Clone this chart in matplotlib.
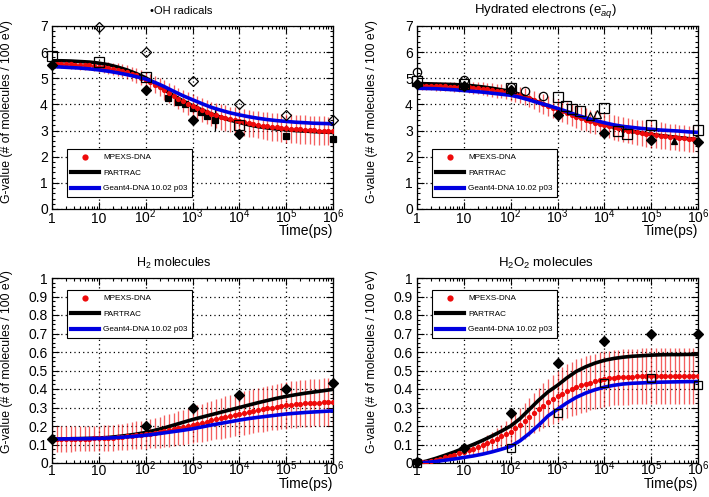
import numpy as np
import matplotlib
matplotlib.use('Agg')
import matplotlib.pyplot as plt
from matplotlib.lines import Line2D
from matplotlib.ticker import FixedLocator, FixedFormatter, MultipleLocator, NullFormatter

plt.rcParams['font.family'] = ['Liberation Sans', 'DejaVu Sans']
plt.rcParams['mathtext.fontset'] = 'custom'
plt.rcParams['mathtext.rm'] = 'Liberation Sans'
plt.rcParams['mathtext.it'] = 'Liberation Sans:italic'
plt.rcParams['mathtext.bf'] = 'Liberation Sans:bold'

# ---------------- time grids (ps) ----------------
t_dots = 10 ** (np.arange(61) / 10.0)    # MPEXS-DNA sampling, 10 per decade
t_lines = 10 ** (np.arange(31) / 5.0)    # PARTRAC / Geant4-DNA sampling, 5 per decade

x_ticks = [1, 10, 1e2, 1e3, 1e4, 1e5, 1e6]
x_ticklabels = ['1', '10', '$10^{2}$', '$10^{3}$', '$10^{4}$', '$10^{5}$', '$10^{6}$']

legend_labels = ['MPEXS-DNA', 'PARTRAC', 'Geant4-DNA 10.02 p03']

# ---------------- OH radicals ----------------
oh_mpexs = [5.55, 5.55, 5.54, 5.54, 5.53, 5.52, 5.51, 5.50, 5.49, 5.47,
            5.45, 5.43, 5.40, 5.37, 5.33, 5.29, 5.24, 5.18, 5.11, 5.03,
            4.95, 4.86, 4.76, 4.66, 4.55, 4.44, 4.33, 4.22, 4.12, 4.03,
            3.94, 3.86, 3.78, 3.71, 3.64, 3.58, 3.52, 3.47, 3.43, 3.39,
            3.35, 3.31, 3.28, 3.25, 3.22, 3.19, 3.17, 3.15, 3.13, 3.11,
            3.09, 3.07, 3.06, 3.05, 3.04, 3.02, 3.01, 3.00, 2.99, 2.98, 2.97]
oh_mpexs_err = [0.15, 0.15, 0.16, 0.16, 0.17, 0.17, 0.18, 0.18, 0.19, 0.19,
                0.20, 0.21, 0.22, 0.23, 0.24, 0.25, 0.26, 0.27, 0.28, 0.29,
                0.30, 0.32, 0.34, 0.35, 0.37, 0.38, 0.40, 0.41, 0.42, 0.44,
                0.45, 0.46, 0.46, 0.47, 0.47, 0.48, 0.48, 0.49, 0.49, 0.50,
                0.50, 0.50, 0.51, 0.51, 0.52, 0.52, 0.53, 0.53, 0.54, 0.54,
                0.55, 0.55, 0.55, 0.55, 0.55, 0.55, 0.55, 0.55, 0.55, 0.55, 0.55]
oh_partrac = [5.67, 5.67, 5.66, 5.64, 5.62,
              5.58, 5.52, 5.43, 5.32, 5.18,
              5.02, 4.80, 4.56, 4.33, 4.13,
              3.95, 3.79, 3.64, 3.51, 3.40,
              3.31, 3.22, 3.15, 3.10, 3.06,
              3.03, 3.00, 2.98, 2.96, 2.94, 2.93]
oh_geant4 = [5.45, 5.43, 5.41, 5.39, 5.36,
             5.32, 5.27, 5.21, 5.14, 5.06,
             4.97, 4.84, 4.68, 4.50, 4.33,
             4.18, 4.03, 3.89, 3.78, 3.68,
             3.60, 3.53, 3.47, 3.42, 3.38,
             3.35, 3.32, 3.30, 3.28, 3.27, 3.26]
oh_exp_odiam_t = [10, 1e2, 1e3, 1e4, 1e5, 1e6]
oh_exp_odiam_g = [6.95, 6.02, 4.88, 4.00, 3.60, 3.42]
oh_exp_fdiam_t = [1, 1e2, 1e3, 1e4]
oh_exp_fdiam_g = [5.50, 4.55, 3.42, 2.88]
oh_exp_osq_t = [1, 10, 1e2, 1e4]
oh_exp_osq_g = [5.85, 5.62, 5.05, 3.20]
oh_exp_fsq_t = [300, 500, 700, 1e3, 1.5e3, 2e3, 3e3, 1e5, 1e6]
oh_exp_fsq_g = [4.25, 4.10, 4.00, 3.88, 3.70, 3.55, 3.42, 2.78, 2.68]
oh_exp_fsq_err = [0, 0, 0, 0, 0, 0, 0.45, 0, 0]

# ---------------- Hydrated electrons ----------------
eaq_mpexs = [4.72, 4.72, 4.71, 4.71, 4.70, 4.70, 4.69, 4.68, 4.68, 4.67,
             4.66, 4.65, 4.63, 4.62, 4.60, 4.58, 4.56, 4.53, 4.51, 4.48,
             4.45, 4.41, 4.36, 4.30, 4.23, 4.16, 4.08, 4.01, 3.94, 3.87,
             3.80, 3.73, 3.66, 3.60, 3.53, 3.47, 3.41, 3.35, 3.30, 3.25,
             3.20, 3.16, 3.12, 3.08, 3.04, 3.00, 2.97, 2.94, 2.91, 2.88,
             2.85, 2.83, 2.81, 2.79, 2.77, 2.75, 2.73, 2.71, 2.69, 2.67, 2.65]
eaq_mpexs_err = [0.15, 0.15, 0.16, 0.16, 0.17, 0.17, 0.18, 0.18, 0.19, 0.19,
                 0.20, 0.21, 0.22, 0.23, 0.24, 0.25, 0.26, 0.27, 0.28, 0.29,
                 0.30, 0.31, 0.32, 0.33, 0.34, 0.35, 0.36, 0.37, 0.38, 0.39,
                 0.40, 0.41, 0.42, 0.42, 0.43, 0.43, 0.44, 0.44, 0.45, 0.45,
                 0.46, 0.46, 0.47, 0.47, 0.47, 0.48, 0.48, 0.48, 0.49, 0.49,
                 0.50, 0.50, 0.50, 0.50, 0.50, 0.50, 0.50, 0.50, 0.50, 0.50, 0.50]
eaq_partrac = [4.80, 4.79, 4.78, 4.77, 4.76,
               4.74, 4.71, 4.67, 4.62, 4.56,
               4.50, 4.38, 4.23, 4.08, 3.95,
               3.82, 3.69, 3.56, 3.43, 3.32,
               3.22, 3.13, 3.05, 2.97, 2.91,
               2.85, 2.81, 2.77, 2.73, 2.69, 2.66]
eaq_geant4 = [4.62, 4.61, 4.60, 4.58, 4.56,
              4.53, 4.50, 4.47, 4.43, 4.39,
              4.35, 4.27, 4.17, 4.06, 3.96,
              3.85, 3.73, 3.60, 3.49, 3.39,
              3.30, 3.22, 3.16, 3.12, 3.08,
              3.05, 3.02, 3.00, 2.98, 2.95, 2.93]
eaq_exp_ocirc_t = [1, 10, 1e2, 200, 500]
eaq_exp_ocirc_g = [5.25, 4.95, 4.65, 4.50, 4.32]
eaq_exp_osq_t = [1, 10, 1e2, 1e3, 1.5e3, 2e3, 3e3, 1e4, 2e4, 3e4, 1e5, 1e6]
eaq_exp_osq_g = [4.90, 4.80, 4.62, 4.28, 3.95, 3.82, 3.75, 3.85, 3.00, 2.85, 3.22, 3.02]
eaq_exp_otri_t = [5e3, 7e3]
eaq_exp_otri_g = [3.55, 3.65]
eaq_exp_ftri_t = [3e5]
eaq_exp_ftri_g = [2.62]
eaq_exp_fdiam_t = [1, 10, 1e2, 1e3, 1e4, 1e5, 1e6]
eaq_exp_fdiam_g = [4.80, 4.72, 4.55, 3.58, 2.90, 2.65, 2.55]

# ---------------- H2 molecules ----------------
h2_mpexs = [0.130, 0.130, 0.130, 0.130, 0.130, 0.131, 0.131, 0.132, 0.132, 0.133,
            0.133, 0.134, 0.136, 0.137, 0.139, 0.141, 0.144, 0.147, 0.150, 0.152,
            0.155, 0.159, 0.163, 0.167, 0.172, 0.177, 0.182, 0.188, 0.193, 0.199,
            0.205, 0.211, 0.217, 0.224, 0.230, 0.236, 0.242, 0.248, 0.254, 0.260,
            0.265, 0.271, 0.276, 0.281, 0.286, 0.291, 0.295, 0.299, 0.303, 0.308,
            0.312, 0.315, 0.318, 0.320, 0.322, 0.324, 0.326, 0.327, 0.328, 0.329, 0.330]
h2_mpexs_err = [0.068, 0.068, 0.068, 0.068, 0.068, 0.068, 0.068, 0.068, 0.068, 0.068,
                0.068, 0.069, 0.070, 0.070, 0.071, 0.072, 0.073, 0.074, 0.075, 0.076,
                0.078, 0.080, 0.082, 0.084, 0.086, 0.088, 0.090, 0.092, 0.094, 0.096,
                0.098, 0.100, 0.102, 0.104, 0.106, 0.108, 0.110, 0.112, 0.114, 0.115,
                0.116, 0.117, 0.118, 0.119, 0.120, 0.121, 0.122, 0.123, 0.124, 0.125,
                0.126, 0.126, 0.127, 0.127, 0.128, 0.128, 0.128, 0.129, 0.129, 0.129, 0.130]
h2_partrac = [0.130, 0.130, 0.131, 0.132, 0.133,
              0.135, 0.138, 0.143, 0.149, 0.156,
              0.165, 0.177, 0.190, 0.205, 0.220,
              0.235, 0.248, 0.261, 0.274, 0.287,
              0.300, 0.313, 0.326, 0.338, 0.350,
              0.360, 0.369, 0.377, 0.384, 0.391, 0.398]
h2_geant4 = [0.130, 0.130, 0.131, 0.131, 0.132,
             0.133, 0.135, 0.138, 0.141, 0.145,
             0.150, 0.156, 0.163, 0.170, 0.177,
             0.185, 0.195, 0.205, 0.214, 0.223,
             0.232, 0.240, 0.247, 0.253, 0.259,
             0.265, 0.269, 0.273, 0.276, 0.279, 0.282]
h2_exp_fdiam_t = [1, 1e2, 1e3, 1e4, 1e5, 1e6]
h2_exp_fdiam_g = [0.13, 0.20, 0.30, 0.365, 0.40, 0.43]

# ---------------- H2O2 molecules ----------------
h2o2_mpexs = [0.000, 0.003, 0.007, 0.012, 0.018, 0.024, 0.031, 0.038, 0.045, 0.052,
              0.060, 0.068, 0.076, 0.085, 0.095, 0.106, 0.118, 0.131, 0.145, 0.158,
              0.170, 0.188, 0.207, 0.227, 0.248, 0.270, 0.290, 0.310, 0.328, 0.345,
              0.360, 0.375, 0.388, 0.400, 0.410, 0.419, 0.427, 0.434, 0.441, 0.448,
              0.455, 0.458, 0.461, 0.463, 0.465, 0.466, 0.467, 0.468, 0.469, 0.469,
              0.470, 0.470, 0.470, 0.470, 0.470, 0.470, 0.470, 0.470, 0.470, 0.470, 0.470]
h2o2_mpexs_err = [0.005, 0.006, 0.008, 0.010, 0.012, 0.014, 0.016, 0.018, 0.020, 0.022,
                  0.025, 0.028, 0.031, 0.035, 0.040, 0.045, 0.050, 0.056, 0.062, 0.068,
                  0.075, 0.082, 0.089, 0.096, 0.103, 0.110, 0.116, 0.122, 0.128, 0.133,
                  0.138, 0.142, 0.145, 0.148, 0.150, 0.150, 0.150, 0.150, 0.150, 0.150,
                  0.150, 0.150, 0.150, 0.150, 0.150, 0.150, 0.150, 0.150, 0.150, 0.150,
                  0.150, 0.150, 0.150, 0.150, 0.150, 0.150, 0.150, 0.150, 0.150, 0.150, 0.150]
h2o2_partrac = [0.000, 0.010, 0.025, 0.042, 0.060,
                0.080, 0.100, 0.122, 0.146, 0.172,
                0.200, 0.240, 0.290, 0.340, 0.385,
                0.420, 0.460, 0.495, 0.520, 0.540,
                0.555, 0.565, 0.572, 0.577, 0.580,
                0.583, 0.585, 0.586, 0.586, 0.587, 0.587]
h2o2_geant4 = [0.000, 0.003, 0.008, 0.015, 0.022,
               0.030, 0.038, 0.048, 0.060, 0.074,
               0.090, 0.120, 0.160, 0.205, 0.255,
               0.290, 0.325, 0.355, 0.378, 0.396,
               0.410, 0.420, 0.427, 0.431, 0.433,
               0.435, 0.437, 0.438, 0.439, 0.440, 0.440]
h2o2_exp_fdiam_t = [1, 10, 1e2, 1e3, 1e4, 1e5, 1e6]
h2o2_exp_fdiam_g = [0.005, 0.08, 0.27, 0.54, 0.66, 0.695, 0.695]
h2o2_exp_osq_t = [1, 1e2, 1e3, 1e4, 1e5, 1e6]
h2o2_exp_osq_g = [0.0, 0.08, 0.27, 0.43, 0.46, 0.42]

# ---------------- figure ----------------
W, H = 709, 497
fig = plt.figure(figsize=(W / 100, H / 100), dpi=100)
PT = 72.0 / 100.0   # points per pixel


def px_axes(l, t, r, b):
    return fig.add_axes([l / W, 1 - b / H, (r - l) / W, (b - t) / H])


RED = '#ee0a0a'
BLUE = '#0000e0'


def draw_models(ax, mp, mp_err, pa, g4):
    ax.errorbar(t_dots, mp, yerr=mp_err, fmt='none', ecolor=RED, elinewidth=0.95,
                alpha=0.65, capsize=0, zorder=2)
    ax.plot(t_lines, pa, color='black', lw=2.6, zorder=3, solid_capstyle='butt')
    ax.plot(t_dots, mp, 'o', color=RED, ms=3.8, mec='none', zorder=4)
    ax.plot(t_lines, g4, color=BLUE, lw=2.6, zorder=5, solid_capstyle='butt')


def style_axes(ax, ymax, ymajor, yminor, ylabel_y, tick_base_px, time_base_px):
    ax.set_xscale('log')
    ax.set_xlim(1, 1e6)
    ax.set_ylim(0, ymax)
    ax.xaxis.set_major_locator(FixedLocator(x_ticks))
    ax.xaxis.set_major_formatter(FixedFormatter(x_ticklabels))
    minors = [m * 10 ** d for d in range(6) for m in range(2, 10)]
    ax.xaxis.set_minor_locator(FixedLocator(minors))
    ax.xaxis.set_minor_formatter(NullFormatter())
    ax.yaxis.set_major_locator(MultipleLocator(ymajor))
    ax.yaxis.set_minor_locator(MultipleLocator(yminor))
    if ymajor < 1:
        ax.yaxis.set_major_formatter(plt.FuncFormatter(
            lambda v, p: '0' if abs(v) < 1e-9 else ('1' if abs(v - 1) < 1e-9 else f'{v:.1f}')))
    ax.tick_params(which='both', direction='in', top=True, right=True, labelsize=10, width=0.8)
    ax.tick_params(which='major', length=5)
    ax.tick_params(axis='y', which='major', pad=3)
    ax.tick_params(axis='x', which='major', pad=tick_base_px * PT)
    for lbl in ax.get_xticklabels():
        lbl.set_verticalalignment('baseline')
    ax.tick_params(which='minor', length=2.5)
    ax.grid(True, which='major', color='black', linestyle=(0, (1, 2.5)), linewidth=0.9)
    for s in ax.spines.values():
        s.set_linewidth(0.9)
    ax.set_ylabel('G-value (# of molecules / 100 eV)', fontsize=8.8)
    ax.yaxis.set_label_coords(-0.138, ylabel_y)
    h_px = ax.get_position().height * H
    ax.text(1.0, -time_base_px / h_px, 'Time(ps)', transform=ax.transAxes,
            ha='right', va='baseline', fontsize=10)


def add_legend(ax, anchor):
    handles = [Line2D([], [], marker='o', ls='none', color=RED, ms=4.5, mec='none'),
               Line2D([], [], color='black', lw=3),
               Line2D([], [], color=BLUE, lw=3)]
    leg = ax.legend(handles, legend_labels, loc='lower left', bbox_to_anchor=anchor,
                    fontsize=5.9, frameon=True, fancybox=False, framealpha=1,
                    edgecolor='black', handlelength=3.4, labelspacing=0.95,
                    borderpad=0.55, handletextpad=0.45, borderaxespad=0)
    leg.get_frame().set_linewidth(0.8)
    leg.set_zorder(20)


def exp_pts(ax, t, g, marker, filled, ms=6, yerr=None, z=8):
    fc = 'black' if filled else 'none'
    ax.errorbar(t, g, yerr=yerr, fmt=marker, ms=ms, mfc=fc, mec='black', mew=0.9,
                ecolor='black', elinewidth=0.9, capsize=0, zorder=z, clip_on=False)


# ---- OH ----
ax1 = px_axes(52, 26, 333, 209)
draw_models(ax1, oh_mpexs, oh_mpexs_err, oh_partrac, oh_geant4)
exp_pts(ax1, oh_exp_odiam_t, oh_exp_odiam_g, 'D', False, ms=5.5)
exp_pts(ax1, oh_exp_fdiam_t, oh_exp_fdiam_g, 'D', True, ms=5)
exp_pts(ax1, oh_exp_osq_t, oh_exp_osq_g, 's', False, ms=6.5)
exp_pts(ax1, oh_exp_fsq_t, oh_exp_fsq_g, 's', True, ms=5, yerr=oh_exp_fsq_err, z=3.5)
style_axes(ax1, 7, 1, 0.2, 0.53, 14, 26)
add_legend(ax1, (0.053, 0.066))
fig.text(181 / W, 1 - 11 / H, '•OH radicals', ha='center', va='center', fontsize=8)

# ---- e_aq ----
ax2 = px_axes(417, 26, 698, 209)
draw_models(ax2, eaq_mpexs, eaq_mpexs_err, eaq_partrac, eaq_geant4)
exp_pts(ax2, eaq_exp_ocirc_t, eaq_exp_ocirc_g, 'o', False, ms=6)
exp_pts(ax2, eaq_exp_osq_t, eaq_exp_osq_g, 's', False, ms=6.5)
exp_pts(ax2, eaq_exp_otri_t, eaq_exp_otri_g, '^', False, ms=5.5)
exp_pts(ax2, eaq_exp_ftri_t, eaq_exp_ftri_g, '^', True, ms=5)
exp_pts(ax2, eaq_exp_fdiam_t, eaq_exp_fdiam_g, 'D', True, ms=5)
style_axes(ax2, 7, 1, 0.2, 0.53, 14, 26)
add_legend(ax2, (0.053, 0.066))
fig.text(546 / W, 1 - 12 / H, 'Hydrated electrons (e$^{-}_{aq}$)', ha='center', va='center', fontsize=9.5)

# ---- H2 ----
ax3 = px_axes(52, 278, 333, 463)
draw_models(ax3, h2_mpexs, h2_mpexs_err, h2_partrac, h2_geant4)
exp_pts(ax3, h2_exp_fdiam_t, h2_exp_fdiam_g, 'D', True, ms=5, yerr=[0.015] * len(h2_exp_fdiam_t))
style_axes(ax3, 1, 0.1, 0.025, 0.548, 12, 25)
add_legend(ax3, (0.053, 0.676))
fig.text(174 / W, 1 - 263 / H, 'H$_2$ molecules', ha='center', va='center', fontsize=9)

# ---- H2O2 ----
ax4 = px_axes(417, 278, 698, 463)
draw_models(ax4, h2o2_mpexs, h2o2_mpexs_err, h2o2_partrac, h2o2_geant4)
exp_pts(ax4, h2o2_exp_fdiam_t, h2o2_exp_fdiam_g, 'D', True, ms=5, yerr=[0.015] * len(h2o2_exp_fdiam_t))
exp_pts(ax4, h2o2_exp_osq_t, h2o2_exp_osq_g, 's', False, ms=6)
style_axes(ax4, 1, 0.1, 0.025, 0.548, 12, 25)
add_legend(ax4, (0.053, 0.676))
fig.text(546 / W, 1 - 263 / H, 'H$_2$O$_2$ molecules', ha='center', va='center', fontsize=9.5)

fig.savefig('out.png', dpi=100)
